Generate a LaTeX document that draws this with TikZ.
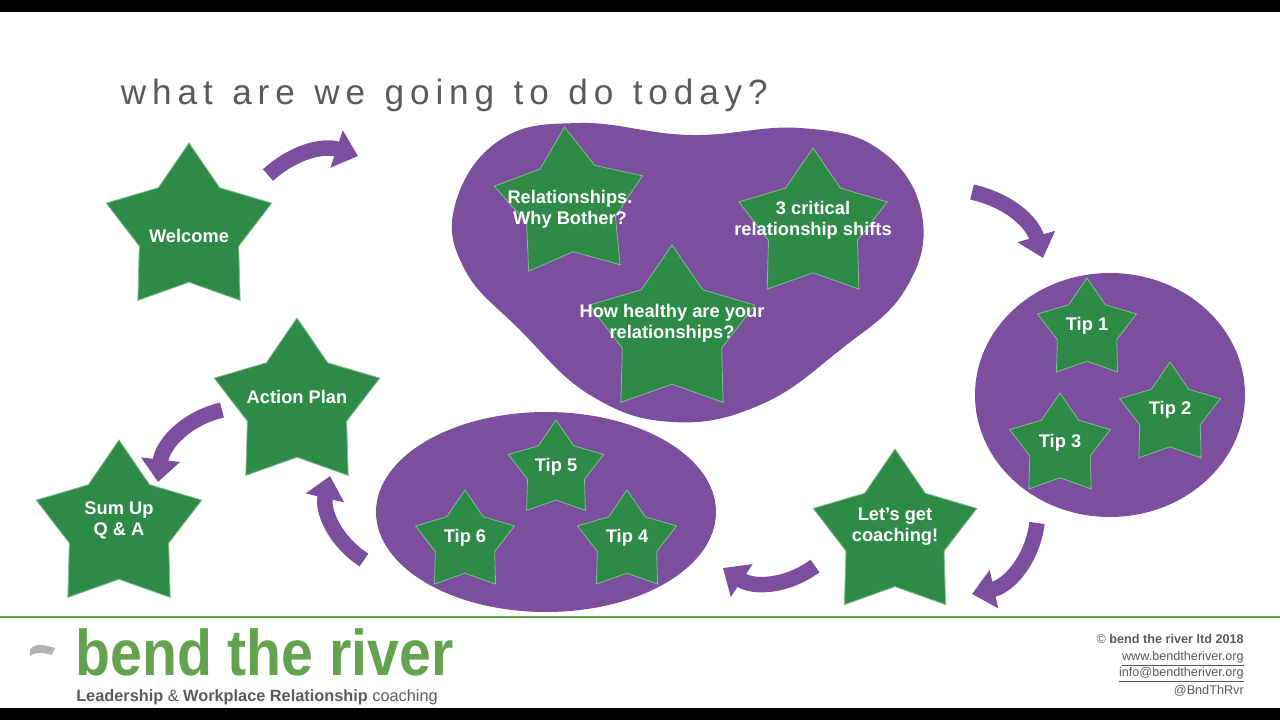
\documentclass[tikz,border=0pt]{standalone}
\usepackage{fontspec}
\setmainfont{Liberation Sans}
\usetikzlibrary{arrows.meta}
\definecolor{sgreen}{HTML}{2E8B47}
\definecolor{blob}{HTML}{7B4E9E}
\definecolor{lgreen}{HTML}{63A34F}
\definecolor{tgray}{HTML}{5A5A5A}
\tikzset{
 stxt/.style={text=white,font=\bfseries\fontsize{13}{15}\selectfont,align=center,inner sep=0pt},
 sfill/.style={fill=sgreen,draw=sgreen!60!white,line width=0.6pt},
 arr/.style={blob,line width=11pt,-{Triangle[length=16pt,width=27pt]}},
}
% #1 name, #2 x, #3 y, #4 R, #5 rotation, #6 text, #7 text y offset
\newcommand{\mystar}[7]{%
 \fill[sfill] plot[samples at={0,...,9},variable=\k] ({#2+((mod(\k,2)==0)*#4+(mod(\k,2)==1)*0.6*#4)*cos(-90+#5+36*\k)},{#3+((mod(\k,2)==0)*#4+(mod(\k,2)==1)*0.6*#4)*sin(-90+#5+36*\k)}) -- cycle;
 \node[stxt] (#1) at (#2,#3+#7) {#6};}
\begin{document}
\begin{tikzpicture}[x=0.025cm,y=-0.025cm]
\useasboundingbox (0,0) rectangle (1280,720);
\fill[black] (0,0) rectangle (1280,12);
\fill[black] (0,708) rectangle (1280,720);
\node[anchor=west,text=tgray,font=\fontsize{25}{28}\selectfont] (title) at (116,95) {w\,h\,a\,t\ \ a\,r\,e\ \ w\,e\ \ g\,o\,i\,n\,g\ \ t\,o\ \ d\,o\ \ t\,o\,d\,a\,y\,?};
% blobs
\fill[blob] plot[smooth cycle,tension=0.7] coordinates {(455,205) (500,140) (580,123) (690,135) (800,128) (880,150) (922,215) (905,290) (840,350) (760,405) (672,422) (590,395) (520,330) (465,270)};
\fill[blob] (1110,395) ellipse [x radius=135,y radius=122];
\fill[blob] (546,512) ellipse [x radius=170,y radius=100];
% stars
\mystar{welcome}{189}{230}{87}{0}{Welcome}{6}
\mystar{rel}{570}{205}{78}{-4}{Relationships.\\Why Bother?}{4}
\mystar{crit}{813}{226}{78}{0}{3 critical\\relationship shifts}{-6}
\mystar{healthy}{672}{332}{87}{0}{How healthy are your\\relationships?}{-9}
\mystar{t1}{1087}{330}{52}{0}{Tip 1}{-4}
\mystar{t2}{1170}{415}{53}{0}{Tip 2}{-5}
\mystar{t3}{1060}{446}{53}{0}{Tip 3}{-3}
\mystar{coach}{895}{535}{86}{0}{Let's get\\coaching!}{-8}
\mystar{t5}{556}{470}{50}{0}{Tip 5}{-3}
\mystar{t6}{465}{542}{52}{0}{Tip 6}{-4}
\mystar{t4}{627}{542}{52}{0}{Tip 4}{-4}
\mystar{action}{297}{405}{87}{0}{Action Plan}{-8}
\mystar{sum}{119}{527}{87}{0}{Sum Up\\Q \& A}{-7}
% arrows
\coordinate (a1s) at (268,175); \coordinate (a1e) at (358,156);
\draw[arr] (a1s) to[bend left=30] (a1e);
\coordinate (a2s) at (972,192); \coordinate (a2e) at (1043,258);
\draw[arr] (a2s) to[bend left=30] (a2e);
\coordinate (a3s) at (1037,523); \coordinate (a3e) at (972,594);
\draw[arr] (a3s) to[bend left=35] (a3e);
\coordinate (a4s) at (815,566); \coordinate (a4e) at (723,568);
\draw[arr] (a4s) to[bend left=35] (a4e);
\coordinate (a5s) at (364,560); \coordinate (a5e) at (330,476);
\draw[arr] (a5s) to[bend left=35] (a5e);
\coordinate (a6s) at (222,410); \coordinate (a6e) at (158,482);
\draw[arr] (a6s) to[bend right=35] (a6e);
% footer
\draw[lgreen,line width=1pt] (0,617) -- (1280,617);
\fill[gray!60] (30,650) .. controls (35,642) and (45,645) .. (55,648) -- (52,655) .. controls (42,652) and (35,652) .. (30,656) -- cycle;
\node[anchor=west,text=lgreen,font=\bfseries\fontsize{46}{50}\selectfont,xscale=0.885,inner sep=0] (logo) at (75,652) {bend the river};
\node[anchor=west,text=tgray,font=\fontsize{11.6}{13}\selectfont,inner sep=0] (tag) at (76,697) {\textbf{Leadership} \& \textbf{Workplace Relationship} coaching};
\node[anchor=east,text=tgray,font=\fontsize{9}{11}\selectfont,inner sep=0] (c1) at (1244,639) {© \textbf{bend the river ltd 2018}};
\node[anchor=east,text=tgray,font=\fontsize{9}{11}\selectfont,inner sep=0] (c2) at (1244,659) {\underline{www.bendtheriver.org}};
\node[anchor=east,text=tgray,font=\fontsize{9}{11}\selectfont,inner sep=0] (c3) at (1244,675) {\underline{info@bendtheriver.org}};
\node[anchor=east,text=tgray,font=\fontsize{9}{11}\selectfont,inner sep=0] (c4) at (1244,691) {@BndThRvr};
\end{tikzpicture}
\end{document}
